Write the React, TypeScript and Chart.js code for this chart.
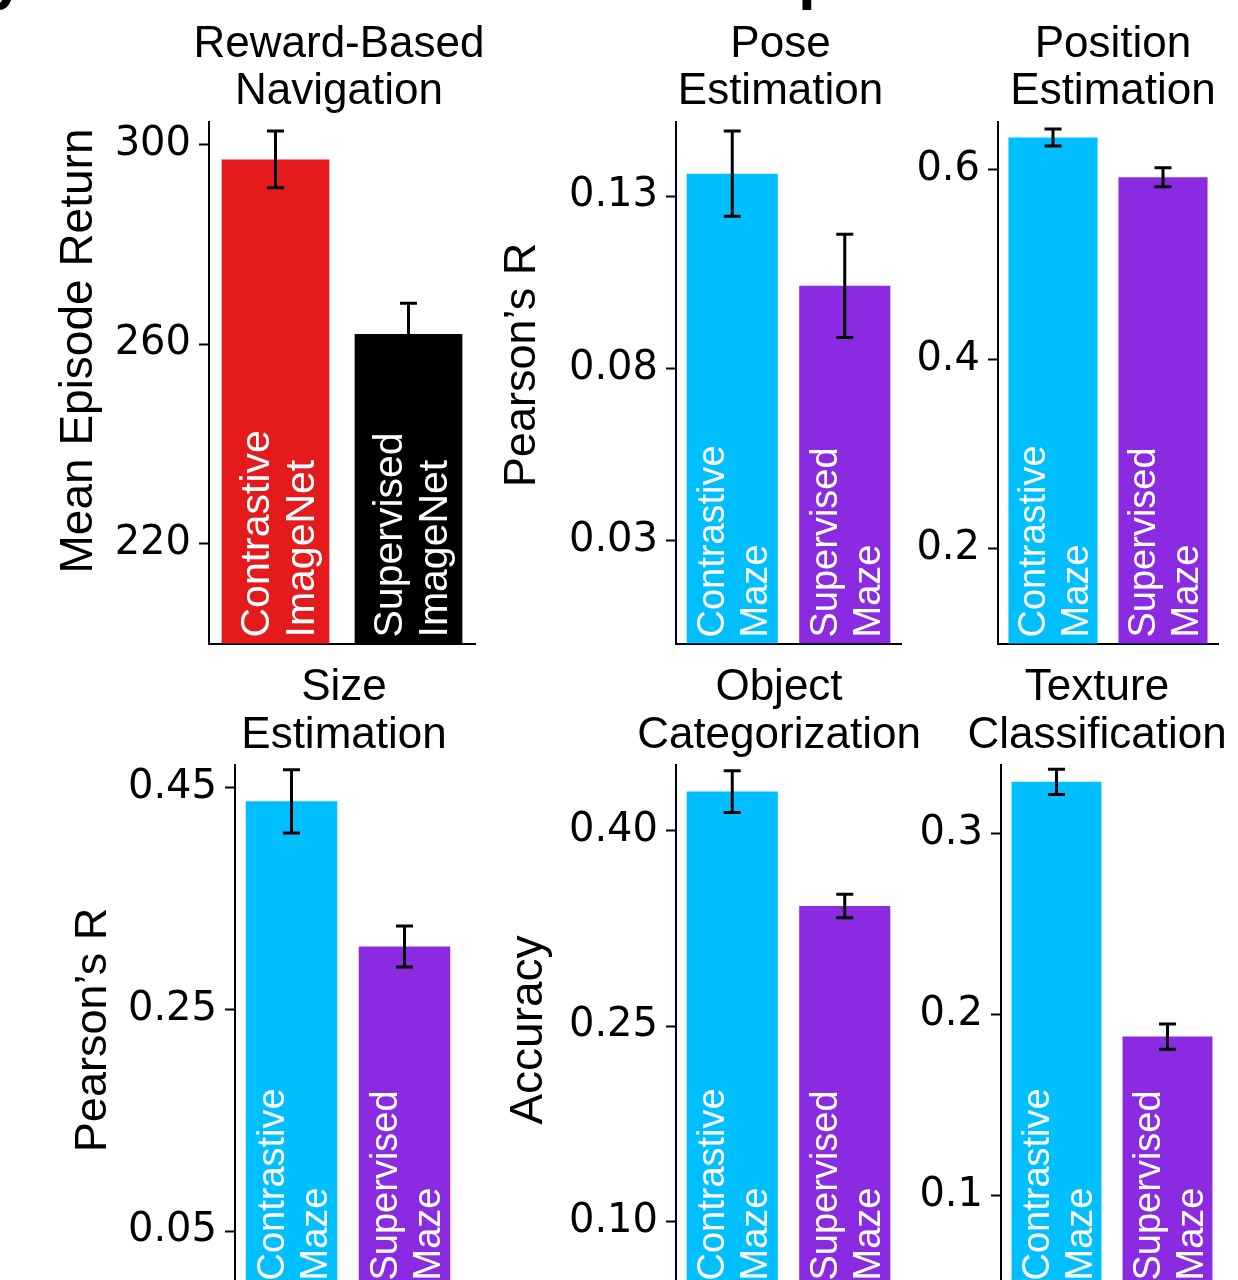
import React, { useEffect, useRef } from "react";
import { Chart, registerables } from "chart.js";

Chart.register(...registerables);

// ---------------- DATA ----------------
const imageNetCategories = ["Contrastive ImageNet", "Supervised ImageNet"];
const mazeCategories = ["Contrastive Maze", "Supervised Maze"];
const imageNetColors = ["#E41A1C", "#000000"];
const mazeColors = ["#00BFFF", "#8A2BE2"];

const navigationMeans = [297.0, 262.0];
const navigationErrors = [5.7, 6.2];
const navigationTicks = [220, 260, 300];
const navigationRange = [200, 304.5];

const poseMeans = [0.1365, 0.1039];
const poseErrors = [0.0124, 0.015];
const poseTicks = [0.03, 0.08, 0.13];
const poseRange = [0, 0.1515];

const positionMeans = [0.634, 0.592];
const positionErrors = [0.009, 0.01];
const positionTicks = [0.2, 0.4, 0.6];
const positionRange = [0.1, 0.6504];

const sizeMeans = [0.4376, 0.3067];
const sizeErrors = [0.0285, 0.0185];
const sizeTicks = [0.05, 0.25, 0.45];
const sizeRange = [0, 0.4704];

const objectMeans = [0.43, 0.3422];
const objectErrors = [0.016, 0.009];
const objectTicks = [0.1, 0.25, 0.4];
const objectRange = [0.05, 0.4504];

const textureMeans = [0.3287, 0.188];
const textureErrors = [0.007, 0.007];
const textureTicks = [0.1, 0.2, 0.3];
const textureRange = [0.05, 0.338];

// ---------------- LAYOUT ----------------
const TITLE_FONT = '44px "Liberation Sans", Arial, sans-serif';

type Layout = {
  left: number; right: number; top: number; bottom: number;
  titleX: number; titleBase: number[];
  yTitleX?: number; yTitleY?: number; yTitleFont?: number;
  labelFont: number; labelOffsets: number[];
};

type PanelCfg = {
  title: string[];
  yTitle?: string;
  categories: string[];
  colors: string[];
  means: number[];
  errors: number[];
  ticks: number[];
  range: number[];
  decimals: number;
  layout: Layout;
};

const panels: PanelCfg[] = [
  {
    title: ["Reward-Based", "Navigation"], yTitle: "Mean Episode Return",
    categories: imageNetCategories, colors: imageNetColors,
    means: navigationMeans, errors: navigationErrors, ticks: navigationTicks, range: navigationRange, decimals: 0,
    layout: { left: 209, right: 475, top: 122, bottom: 643.5, titleX: 339, titleBase: [57, 104], yTitleX: 92, yTitleY: 351, yTitleFont: 46, labelFont: 41, labelOffsets: [-7, 38] },
  },
  {
    title: ["Pose", "Estimation"], yTitle: "Pearson\u2019s R",
    categories: mazeCategories, colors: mazeColors,
    means: poseMeans, errors: poseErrors, ticks: poseTicks, range: poseRange, decimals: 2,
    layout: { left: 676, right: 901, top: 122, bottom: 643.5, titleX: 780.5, titleBase: [57, 104], yTitleX: 535, yTitleY: 365, yTitleFont: 45, labelFont: 38, labelOffsets: [-8, 35] },
  },
  {
    title: ["Position", "Estimation"],
    categories: mazeCategories, colors: mazeColors,
    means: positionMeans, errors: positionErrors, ticks: positionTicks, range: positionRange, decimals: 1,
    layout: { left: 998, right: 1218, top: 122, bottom: 643.5, titleX: 1113, titleBase: [57, 104], labelFont: 38, labelOffsets: [-8, 35] },
  },
  {
    title: ["Size", "Estimation"], yTitle: "Pearson\u2019s R",
    categories: mazeCategories, colors: mazeColors,
    means: sizeMeans, errors: sizeErrors, ticks: sizeTicks, range: sizeRange, decimals: 2,
    layout: { left: 235, right: 461, top: 765, bottom: 1286.5, titleX: 344, titleBase: [700, 748], yTitleX: 106, yTitleY: 1030, yTitleFont: 45, labelFont: 38, labelOffsets: [-8, 35] },
  },
  {
    title: ["Object", "Categorization"], yTitle: "Accuracy",
    categories: mazeCategories, colors: mazeColors,
    means: objectMeans, errors: objectErrors, ticks: objectTicks, range: objectRange, decimals: 2,
    layout: { left: 676, right: 901, top: 765, bottom: 1286.5, titleX: 779, titleBase: [700, 748], yTitleX: 542, yTitleY: 1030, yTitleFont: 46, labelFont: 38, labelOffsets: [-8, 35] },
  },
  {
    title: ["Texture", "Classification"],
    categories: mazeCategories, colors: mazeColors,
    means: textureMeans, errors: textureErrors, ticks: textureTicks, range: textureRange, decimals: 1,
    layout: { left: 1001, right: 1223, top: 765, bottom: 1286.5, titleX: 1097, titleBase: [700, 748], labelFont: 38, labelOffsets: [-8, 35] },
  },
];

function Panel({ cfg }: { cfg: PanelCfg }) {
  const ref = useRef<HTMLCanvasElement>(null);
  const L = cfg.layout;
  const canvasLeft = Math.max(0, L.left - 200);
  const canvasTop = L.top - 122;
  const width = Math.round(L.right + 30 - canvasLeft);
  const height = Math.round(L.bottom + 40 - canvasTop);

  useEffect(() => {
    const canvas = ref.current;
    if (!canvas) return;
    const overlay = {
      id: "overlay",
      afterDatasetsDraw(chart: any) {
        const ctx = chart.ctx as CanvasRenderingContext2D;
        const xs = chart.scales.x;
        const ys = chart.scales.y;
        ctx.save();
        // in-bar labels
        ctx.fillStyle = "#ffffff";
        ctx.font = `${L.labelFont}px "Liberation Sans", Arial, sans-serif`;
        ctx.textAlign = "left";
        ctx.textBaseline = "alphabetic";
        cfg.categories.forEach((cat, i) => {
          const cx = xs.getPixelForValue(i);
          const lines = cat.split(" ");
          ctx.save();
          ctx.translate(cx, chart.chartArea.bottom - 6);
          ctx.rotate(-Math.PI / 2);
          lines.forEach((ln, j) => ctx.fillText(ln, 0, L.labelOffsets[j]));
          ctx.restore();
        });
        // error bars
        ctx.strokeStyle = "#000000";
        ctx.lineWidth = 3;
        cfg.means.forEach((m, i) => {
          const px = xs.getPixelForValue(i);
          const top = ys.getPixelForValue(m + cfg.errors[i]);
          const bot = ys.getPixelForValue(m - cfg.errors[i]);
          ctx.beginPath();
          ctx.moveTo(px, top);
          ctx.lineTo(px, bot);
          ctx.moveTo(px - 8.5, top);
          ctx.lineTo(px + 8.5, top);
          ctx.moveTo(px - 8.5, bot);
          ctx.lineTo(px + 8.5, bot);
          ctx.stroke();
        });
        ctx.restore();
      },
      afterDraw(chart: any) {
        const ctx = chart.ctx as CanvasRenderingContext2D;
        ctx.save();
        ctx.fillStyle = "#000000";
        ctx.font = TITLE_FONT;
        ctx.textAlign = "center";
        ctx.textBaseline = "alphabetic";
        cfg.title.forEach((t, j) => ctx.fillText(t, L.titleX - canvasLeft, L.titleBase[j] - canvasTop));
        if (cfg.yTitle && L.yTitleX !== undefined && L.yTitleY !== undefined) {
          ctx.save();
          ctx.font = `${L.yTitleFont || 45}px "Liberation Sans", Arial, sans-serif`;
          ctx.translate(L.yTitleX - canvasLeft, L.yTitleY - canvasTop);
          ctx.rotate(-Math.PI / 2);
          ctx.textAlign = "center";
          ctx.fillText(cfg.yTitle, 0, 0);
          ctx.restore();
        }
        ctx.restore();
      },
    };

    const chart = new Chart(canvas, {
      type: "bar",
      data: {
        labels: cfg.categories,
        datasets: [
          {
            data: cfg.means,
            backgroundColor: cfg.colors,
            borderWidth: 0,
            categoryPercentage: 1,
            barPercentage: 0.81,
          },
        ],
      },
      options: {
        responsive: false,
        animation: false,
        devicePixelRatio: 1,
        layout: {
          padding: {
            left: 0,
            top: L.top - canvasTop,
            right: width - (L.right - canvasLeft),
            bottom: height - (L.bottom - canvasTop),
          },
        },
        plugins: {
          legend: { display: false },
          tooltip: { enabled: false },
          title: { display: false },
        },
        scales: {
          x: {
            type: "category",
            offset: true,
            z: 1,
            ticks: { display: false },
            grid: { display: false, drawTicks: false },
            border: { display: true, color: "#000000", width: 2 },
            afterFit: (s: any) => {
              s.height = 0;
              s.paddingLeft = 0;
              s.paddingRight = 0;
            },
          },
          y: {
            type: "linear",
            min: cfg.range[0],
            max: cfg.range[1],
            z: 1,
            afterBuildTicks: (s: any) => {
              s.ticks = cfg.ticks.map((v) => ({ value: v }));
            },
            ticks: {
              callback: (v: any) => Number(v).toFixed(cfg.decimals),
              color: "#000000",
              font: { family: "DejaVu Sans", size: 40 },
              padding: 8,
            },
            grid: {
              display: true,
              drawOnChartArea: false,
              drawTicks: true,
              tickLength: 10,
              tickWidth: 2,
              color: "#000000",
            },
            border: { display: true, color: "#000000", width: 2 },
            afterFit: (s: any) => {
              s.width = L.left - canvasLeft;
              s.paddingTop = 0;
              s.paddingBottom = 0;
            },
          },
        },
      } as any,
      plugins: [overlay],
    });
    return () => chart.destroy();
  }, []);

  return (
    <canvas
      ref={ref}
      width={width}
      height={height}
      style={{ position: "absolute", left: canvasLeft, top: canvasTop, width, height }}
    />
  );
}

export default function App() {
  return (
    <div
      style={{
        position: "absolute",
        left: 0,
        top: 0,
        width: 1238,
        height: 1280,
        overflow: "hidden",
        background: "#ffffff",
      }}
    >
      <div style={{ position: "absolute", left: 0, top: 0, width: 1238, height: 12, overflow: "hidden" }}>
        <span
          style={{
            position: "absolute",
            left: -10,
            top: -57,
            font: 'bold 64px "Liberation Sans", Arial, sans-serif',
            lineHeight: "64px",
            color: "#000",
          }}
        >
          y
        </span>
        <span
          style={{
            position: "absolute",
            left: 798,
            top: -57,
            font: 'bold 64px "Liberation Sans", Arial, sans-serif',
            lineHeight: "64px",
            color: "#000",
          }}
        >
          p
        </span>
      </div>
      {panels.map((p, i) => (
        <Panel key={i} cfg={p} />
      ))}
    </div>
  );
}
